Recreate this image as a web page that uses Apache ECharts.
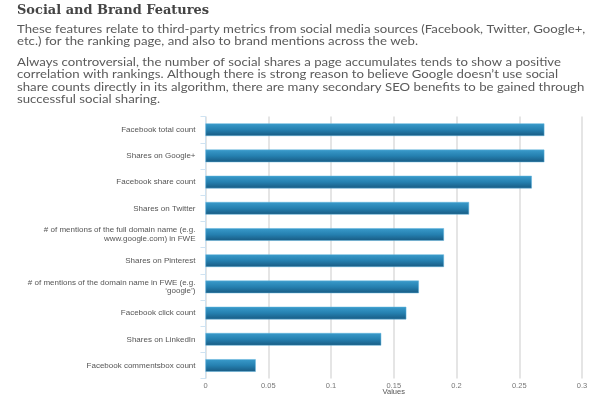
<!DOCTYPE html>
<html>
<head>
<meta charset="utf-8">
<style>html,body{margin:0;padding:0;background:#fff;}#c{width:600px;height:400px;}</style>
<script src="https://cdn.jsdelivr.net/npm/echarts@6/dist/echarts.min.js"></script>
</head>
<body>
<div id="c"></div>
<script>
var titleText = 'Social and Brand Features';
var para1 = [
  'These features relate to third-party metrics from social media sources (Facebook, Twitter, Google+,',
  'etc.) for the ranking page, and also to brand mentions across the web.'
];
var para2 = [
  'Always controversial, the number of social shares a page accumulates tends to show a positive',
  'correlation with rankings. Although there is strong reason to believe Google doesn\u2019t use social',
  'share counts directly in its algorithm, there are many secondary SEO benefits to be gained through',
  'successful social sharing.'
];
var categories = [
  'Facebook total count',
  'Shares on Google+',
  'Facebook share count',
  'Shares on Twitter',
  '# of mentions of the full domain name (e.g.\nwww.google.com) in FWE',
  'Shares on Pinterest',
  '# of mentions of the domain name in FWE (e.g.\n\u2018google\u2019)',
  'Facebook click count',
  'Shares on LinkedIn',
  'Facebook commentsbox count'
];
var values = [0.27, 0.27, 0.26, 0.21, 0.19, 0.19, 0.17, 0.16, 0.14, 0.04];
var xAxisName = 'Values';

var chart = echarts.init(document.getElementById('c'), null, {renderer: 'canvas'});
chart.setOption({
  animation: false,
  backgroundColor: '#fff',
  graphic: [
    {type: 'text', x: 17, y: 4.5, scaleX: 1.08, style: {text: titleText, font: 'bold 12px "DejaVu Serif"', fill: '#444'}},
    {type: 'text', x: 17, y: 22.7, scaleX: 1.1, style: {text: para1.join('\n'), font: '12px Lato', lineHeight: 12.6, fill: '#5a5a5a'}},
    {type: 'text', x: 17, y: 55.4, scaleX: 1.1, style: {text: para2.join('\n'), font: '12px Lato', lineHeight: 12.6, fill: '#5a5a5a'}}
  ],
  grid: {left: 205.5, right: 18, top: 116.6, bottom: 21.4, outerBoundsMode: 'none'},
  xAxis: {
    type: 'value', min: 0, max: 0.3, interval: 0.05,
    name: xAxisName, nameLocation: 'middle', nameGap: 9, nameMoveOverlap: false,
    nameTextStyle: {fontFamily: 'Liberation Sans', fontSize: 7.5, color: '#555'},
    axisLine: {show: false}, axisTick: {show: false},
    axisLabel: {fontFamily: 'Liberation Sans', fontSize: 7.5, color: '#777', margin: 3},
    splitLine: {show: true, lineStyle: {color: '#dcdcdc', width: 1.5}}
  },
  yAxis: {
    type: 'category', data: categories, inverse: true,
    axisLine: {show: true, lineStyle: {color: '#cfe3f2', width: 1}},
    axisTick: {show: true, length: 5, lineStyle: {color: '#cfe3f2'}},
    axisLabel: {fontFamily: 'Liberation Sans', fontSize: 8, color: '#555', margin: 10, lineHeight: 8.5, align: 'right'}
  },
  series: [{
    type: 'bar', data: values, barWidth: '48%',
    itemStyle: {
      color: new echarts.graphic.LinearGradient(0, 0, 0, 1, [
        {offset: 0, color: '#3a9bcb'},
        {offset: 0.5, color: '#2580b0'},
        {offset: 1, color: '#185a82'}
      ]),
      borderColor: '#5fb3dc', borderWidth: 0.5
    }
  }]
});
</script>
</body>
</html>
